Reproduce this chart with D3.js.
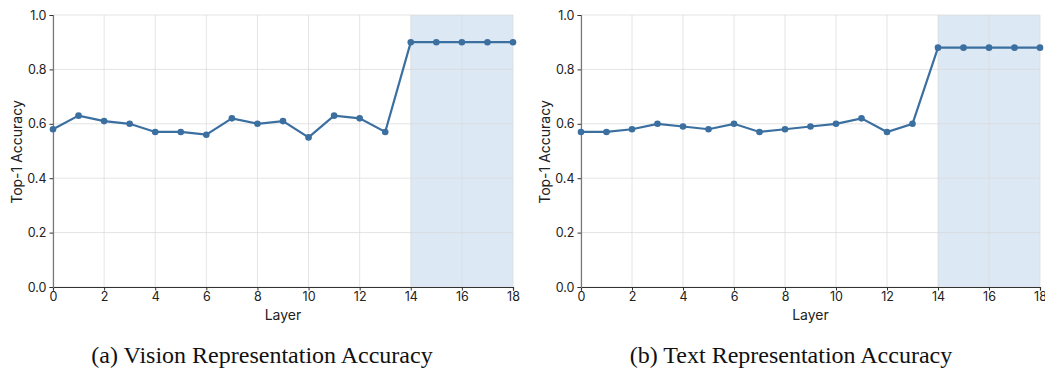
<!DOCTYPE html>
<html>
<head>
<meta charset="utf-8">
<script src="https://cdn.jsdelivr.net/npm/d3@7"></script>
<style>
  html, body { margin: 0; padding: 0; background: #fff; }
  svg { display: block; }
</style>
</head>
<body>
<svg id="chart" width="1045" height="370"></svg>
<script>
// Layer indices shared by both panels
const layers = [0,1,2,3,4,5,6,7,8,9,10,11,12,13,14,15,16,17,18];
// Top-1 accuracy per layer
const visionAcc = [0.58,0.63,0.61,0.60,0.57,0.57,0.56,0.62,0.60,0.61,0.55,0.63,0.62,0.57,0.90,0.90,0.90,0.90,0.90];
const textAcc   = [0.57,0.57,0.58,0.60,0.59,0.58,0.60,0.57,0.58,0.59,0.60,0.62,0.57,0.60,0.88,0.88,0.88,0.88,0.88];
// Highlighted layer range
const shadeRange = [14, 18];
const xTicks = [0,2,4,6,8,10,12,14,16,18];
const yTicks = [0.0,0.2,0.4,0.6,0.8,1.0];
const captions = ["(a) Vision Representation Accuracy", "(b) Text Representation Accuracy"];

(function () {
  const svg = d3.select("#chart");
  const sansFont = "Inter, Roboto, 'Open Sans', sans-serif";
  const lineColor = "#3b6fa0";

  const panels = [
    { values: visionAcc, left: 53, right: 513, caption: captions[0], capX: 262 },
    { values: textAcc,   left: 581, right: 1040, caption: captions[1], capX: 791 }
  ];
  const plotTop = 15, plotBottom = 287;

  panels.forEach(p => {
    const g = svg.append("g");
    const x = d3.scaleLinear().domain([0, 18]).range([p.left, p.right]);
    const y = d3.scaleLinear().domain([0, 1]).range([plotBottom, plotTop]);

    // shaded region
    g.append("rect")
      .attr("x", x(shadeRange[0]))
      .attr("y", y(1))
      .attr("width", x(shadeRange[1]) - x(shadeRange[0]))
      .attr("height", y(0) - y(1))
      .attr("fill", "#c6d9ee")
      .attr("fill-opacity", 0.6);

    // grid
    g.append("g").selectAll("line").data(xTicks).join("line")
      .attr("x1", d => x(d)).attr("x2", d => x(d))
      .attr("y1", y(0)).attr("y2", y(1))
      .attr("stroke", "#d9d9d9").attr("stroke-opacity", 0.7).attr("stroke-width", 1);
    g.append("g").selectAll("line").data(yTicks).join("line")
      .attr("x1", x(0)).attr("x2", x(18))
      .attr("y1", d => y(d)).attr("y2", d => y(d))
      .attr("stroke", "#d9d9d9").attr("stroke-opacity", 0.7).attr("stroke-width", 1);

    // axes
    const xAxis = g.append("g").attr("transform", `translate(0,${plotBottom})`)
      .call(d3.axisBottom(x).tickValues(xTicks).tickFormat(d3.format("d")).tickSizeOuter(0).tickSize(3.5).tickPadding(2));
    xAxis.select(".domain").attr("stroke", "#333").attr("stroke-width", 1.2);
    xAxis.selectAll(".tick line").attr("stroke", "#333");
    xAxis.selectAll("text").attr("font-family", sansFont).attr("font-size", 12.5).attr("fill", "#222");

    const yAxis = g.append("g").attr("transform", `translate(${p.left},0)`)
      .call(d3.axisLeft(y).tickValues(yTicks).tickFormat(d3.format(".1f")).tickSizeOuter(0).tickSize(3.5).tickPadding(3));
    yAxis.select(".domain").attr("stroke", "#777").attr("stroke-width", 1.2);
    yAxis.selectAll(".tick line").attr("stroke", "#333");
    yAxis.selectAll("text").attr("font-family", sansFont).attr("font-size", 12.5).attr("fill", "#222");

    // axis titles
    g.append("text")
      .attr("x", (p.left + p.right) / 2).attr("y", 320)
      .attr("text-anchor", "middle")
      .attr("font-family", sansFont).attr("font-size", 14).attr("fill", "#222")
      .text("Layer");
    g.append("text")
      .attr("transform", `translate(${p.left - 31},${(plotTop + plotBottom) / 2 + 1}) rotate(-90)`)
      .attr("text-anchor", "middle")
      .attr("font-family", sansFont).attr("font-size", 14).attr("fill", "#222")
      .text("Top-1 Accuracy");

    // series line and markers
    const data = layers.map((l, i) => [l, p.values[i]]);
    g.append("path").datum(data)
      .attr("fill", "none").attr("stroke", lineColor).attr("stroke-width", 2.2)
      .attr("d", d3.line().x(d => x(d[0])).y(d => y(d[1])));
    g.append("g").selectAll("circle").data(data).join("circle")
      .attr("cx", d => x(d[0])).attr("cy", d => y(d[1])).attr("r", 3.3)
      .attr("fill", lineColor);

    // caption
    g.append("text")
      .attr("x", p.capX).attr("y", 363)
      .attr("text-anchor", "middle")
      .attr("font-family", "'Liberation Serif', 'Times New Roman', serif")
      .attr("font-size", 24).attr("fill", "#111")
      .text(p.caption);
  });
})();
</script>
</body>
</html>
